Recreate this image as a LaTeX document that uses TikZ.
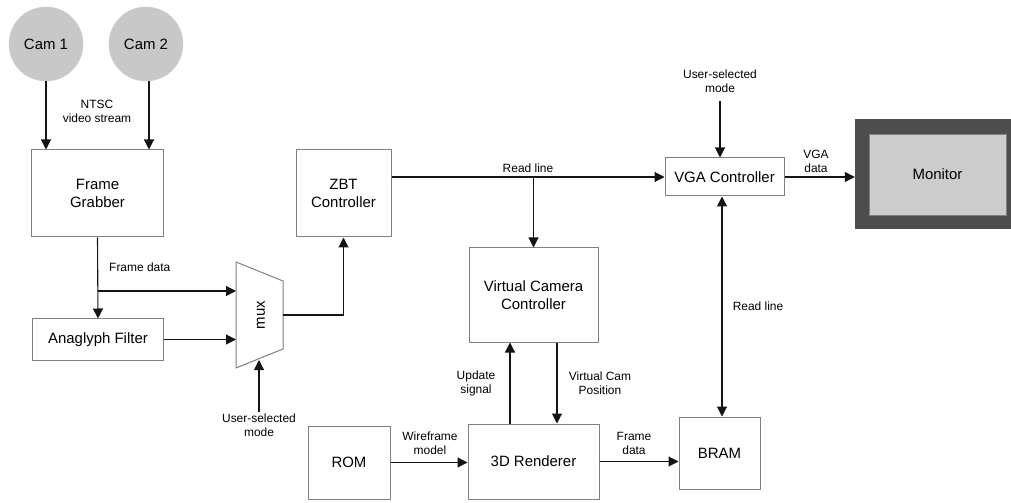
\documentclass[tikz,border=0pt]{standalone}
\usepackage{fontspec}
\setmainfont{Liberation Sans}
\usetikzlibrary{arrows.meta}
\definecolor{boxgray}{RGB}{128,128,128}
\definecolor{camfill}{RGB}{200,200,200}
\definecolor{mondark}{RGB}{77,77,77}
\definecolor{monlight}{RGB}{204,204,204}
\definecolor{linec}{RGB}{20,20,20}
\tikzset{
  blk/.style={draw=boxgray, line width=1bp, fill=white, align=center, inner sep=2bp,
    font=\fontsize{15}{18}\selectfont},
  cam/.style={circle, fill=camfill, draw=camfill, minimum size=74bp, inner sep=0pt,
    font=\fontsize{15}{18}\selectfont},
  lbl/.style={align=center, inner sep=1bp, font=\fontsize{12}{14}\selectfont},
  arr/.style={draw=linec, line width=1.1bp, -{Triangle[length=10bp,width=10bp]}},
  darr/.style={draw=linec, line width=1.1bp, {Triangle[length=10bp,width=10bp]}-{Triangle[length=10bp,width=10bp]}},
  ln/.style={draw=linec, line width=1.1bp},
}
\begin{document}
\begin{tikzpicture}[x=1bp,y=-1bp]
\useasboundingbox (0,0) rectangle (1011,503);

% cameras
\node[cam] (cam1) at (46,44) {Cam 1};
\node[cam] (cam2) at (146,44) {Cam 2};

% blocks
\node[blk, minimum width=131bp, minimum height=87bp] (fg) at (97.5,193.5) {Frame\\Grabber};
\node[blk, minimum width=130bp, minimum height=41bp] (af) at (98,339.5) {Anaglyph Filter};
\node[blk, minimum width=95bp, minimum height=87bp] (zbt) at (343.5,193.5) {ZBT\\Controller};
\node[blk, minimum width=129bp, minimum height=94bp] (vcc) at (533.5,295) {Virtual Camera\\Controller};
\node[blk, minimum width=131bp, minimum height=75bp] (r3d) at (533.5,461.5) {3D Renderer};
\node[blk, minimum width=82bp, minimum height=73bp] (rom) at (349,462.5) {ROM};
\node[blk, minimum width=81bp, minimum height=72bp] (bram) at (719.5,453) {BRAM};
\node[blk, minimum width=119bp, minimum height=38bp] (vga) at (724.5,177) {VGA Controller};

% monitor
\node[fill=mondark, minimum width=156bp, minimum height=110bp, inner sep=0pt] (mon) at (933,174) {};
\node[fill=monlight, draw=boxgray, line width=0.6bp, minimum width=137bp, minimum height=81bp,
  inner sep=0pt, font=\fontsize{15}{18}\selectfont] (moni) at (937.5,174.5) {Monitor};

% mux
\draw[draw=boxgray, line width=1bp, fill=white] (236,262) -- (283,281) -- (283,349) -- (236,368) -- cycle;
\node[rotate=90, font=\fontsize{15}{18}\selectfont] (muxt) at (261,315) {mux};
\coordinate (muxin1) at (236,291);
\coordinate (muxleft) at (236,315);
\coordinate (muxbot) at (259,360);
\coordinate (muxout) at (283,315);

% labels
\node[lbl] (ntsc) at (97,111) {NTSC\\video stream};
\node[lbl, anchor=west] (fdata1) at (108,267) {Frame data};
\node[lbl] (usm1) at (259,425) {User-selected\\mode};
\node[lbl] (rl1) at (528,168) {Read line};
\node[lbl] (upd) at (476,383) {Update\\signal};
\node[lbl] (vcp) at (600,383) {Virtual Cam\\Position};
\node[lbl] (wfm) at (430,443) {Wireframe\\model};
\node[lbl] (fdata2) at (634,443) {Frame\\data};
\node[lbl] (rl2) at (758,306) {Read line};
\node[lbl] (usm2) at (720,81) {User-selected\\mode};
\node[lbl] (vgad) at (816,161) {VGA\\data};
\coordinate (usm2a) at ([yshift=-7bp]usm2.south);

% connectors
\draw[arr] (cam1.south) -- (cam1.south |- fg.north);
\draw[arr] ([xshift=3bp]cam2.south) -- ([xshift=3bp]cam2.south |- fg.north);
\draw[arr] (fg.south) -- (af.north);
\draw[arr] (fg.south |- muxin1) -- (muxin1);
\draw[arr] (af.east) -- (af.east -| muxleft);
\draw[arr] (usm1.north) -- (muxbot);
\draw[arr] (muxout) -| (zbt.south);
\draw[arr] (zbt.east |- vga.west) -- (vga.west);
\draw[arr] (vcc.north |- vga.west) -- (vcc.north);
\draw[arr] ([xshift=-23.5bp]r3d.north) -- ([xshift=-23.5bp]vcc.south);
\draw[arr] ([xshift=23.5bp]vcc.south) -- ([xshift=23.5bp]r3d.north);
\draw[arr] (rom.east) -- (rom.east -| r3d.west);
\draw[arr] (r3d.east) -- (r3d.east -| bram.west);
\draw[darr] ([xshift=-2.5bp]vga.south) -- ([xshift=-2.5bp]vga.south |- bram.north);
\draw[arr] (usm2a) -- (usm2a |- vga.north);
\draw[arr] (vga.east) -- (vga.east -| mon.west);
\end{tikzpicture}
\end{document}
